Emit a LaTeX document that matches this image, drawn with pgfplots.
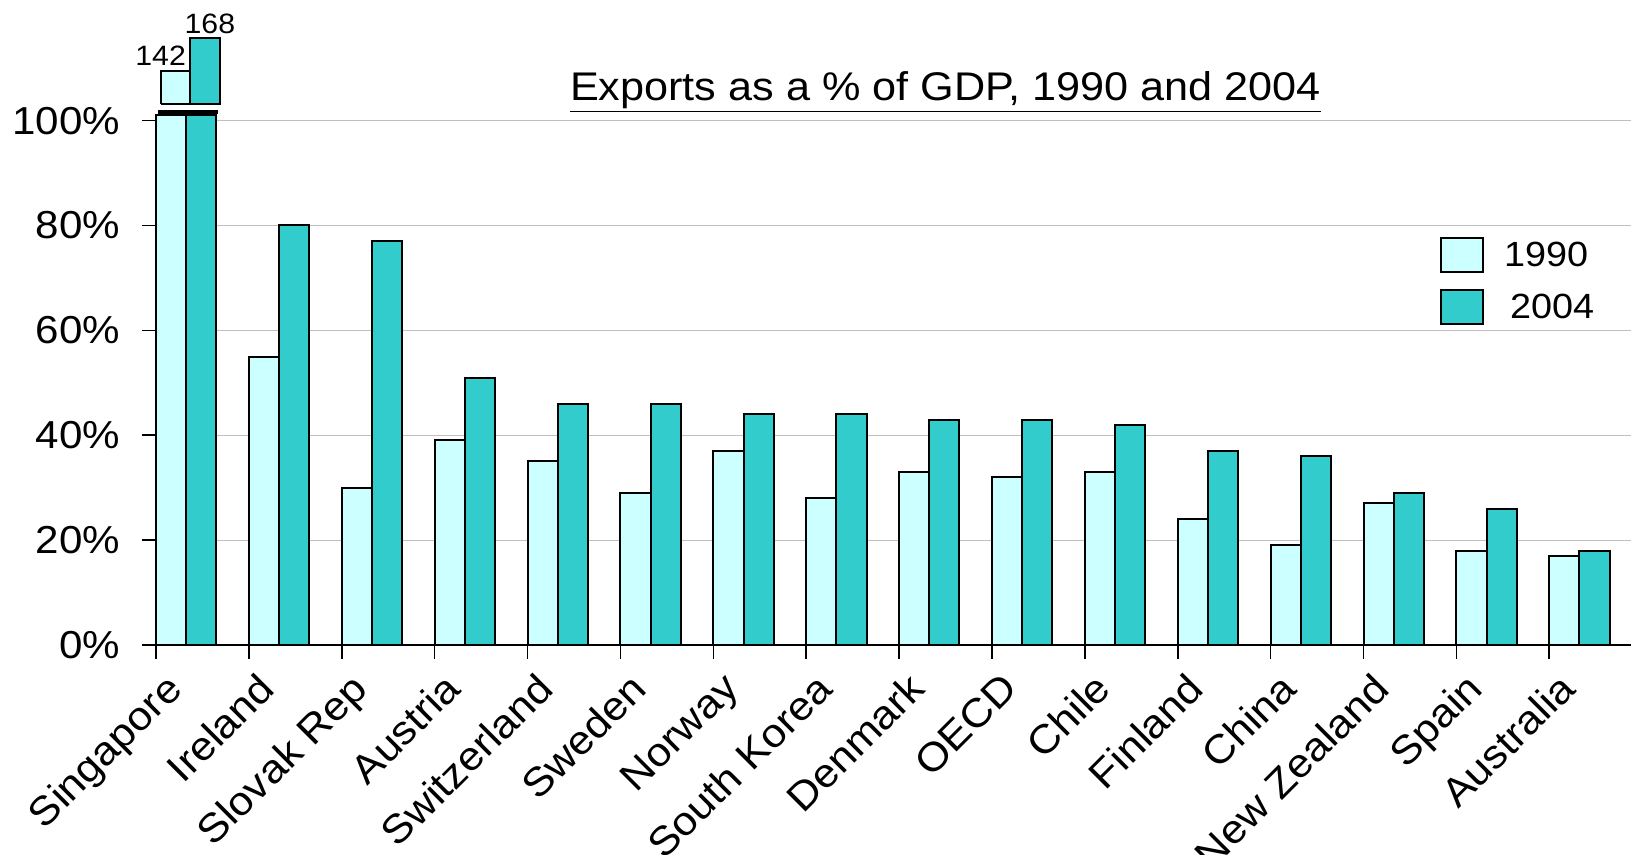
\documentclass[border=0pt]{standalone}
\usepackage{fontspec}
\setmainfont{Liberation Sans}[FakeStretch=1.08]
\usepackage{pgfplots}
\pgfplotsset{compat=1.18}
\definecolor{cA}{HTML}{CCFFFF}
\definecolor{cB}{HTML}{33CCCC}
\pgfplotstableread{
x  y
0.1625 101
1.1625 55
2.1625 30
3.1625 39
4.1625 35
5.1625 29
6.1625 37
7.1625 28
8.1625 33
9.1625 32
10.1625 33
11.1625 24
12.1625 19
13.1625 27
14.1625 18
15.1625 17
}\dataA
\pgfplotstableread{
x  y
0.4875 101
1.4875 80
2.4875 77
3.4875 51
4.4875 46
5.4875 46
6.4875 44
7.4875 44
8.4875 43
9.4875 43
10.4875 42
11.4875 37
12.4875 36
13.4875 29
14.4875 26
15.4875 18
}\dataB
\begin{document}
\begin{tikzpicture}
\path[use as bounding box] (0,0) rectangle (815.5pt,427.5pt);
\begin{axis}[
  at={(78pt,105pt)}, anchor=south west,
  scale only axis, width=737.5pt, height=262.2pt,
  xmin=0, xmax=15.88, ymin=0, ymax=100,
  axis x line=bottom, axis y line=left,
  axis line style={-, line width=0.8pt, black},
  clip=false,
  /pgf/number format/assume math mode=true,
  ytick={0,20,40,60,80,100}, yticklabels={0\%,20\%,40\%,60\%,80\%,100\%},
  yticklabel style={font=\fontsize{19.5}{22}\selectfont, xshift=-7.5pt},
  ymajorgrids, grid style={gray!50, line width=0.6pt},
  tick align=outside, major tick length=7pt,
  tick style={black, line width=0.8pt},
  xtick={0,1,2,3,4,5,6,7,8,9,10,11,12,13,14,15}, xticklabels={},
  extra x ticks={0,1,2,3,4,5,6,7,8,9,10,11,12,13,14,15},
  extra x tick labels={Singapore,Ireland,Slovak Rep,Austria,Switzerland,Sweden,Norway,South Korea,Denmark,OECD,Chile,Finland,China,New Zealand,Spain,Australia},
  extra x tick style={major tick length=0pt, tick label style={xshift=-4pt, rotate=45, yshift=-11pt, anchor=north east, font=\fontsize{20}{23}\selectfont}},
  bar width=0.325,
  mylegend/.style={legend image code/.code={\draw[##1] (0pt,-8.5pt) rectangle (21pt,8.5pt);}},
  legend style={at={(axis cs:13.82,77.8)}, anchor=north west, draw=none, fill=none, inner sep=0pt, row sep=8pt, font=\fontsize{17.5}{20}\selectfont, cells={anchor=west}},
]
\addplot[ybar, bar shift=0pt, fill=cA, draw=black, line width=1pt, mylegend] table[x=x,y=y] {\dataA};
\addlegendentry{\hspace{8pt}1990}
\addplot[ybar, bar shift=0pt, fill=cB, draw=black, line width=1pt, mylegend] table[x=x,y=y] {\dataB};
\addlegendentry{\hspace{11pt}2004}
% broken Singapore bars: stubs above the break
\addplot[forget plot, fill=cA, draw=black, line width=1pt] coordinates {(0.05,103.2) (0.37,103.2) (0.37,109.5) (0.05,109.5) (0.05,103.2)};
\addplot[forget plot, fill=cB, draw=black, line width=1pt] coordinates {(0.37,103.2) (0.69,103.2) (0.69,115.7) (0.37,115.7) (0.37,103.2)};
\addplot[forget plot, black, line width=2pt] coordinates {(0.02,101.6) (0.67,101.6)};
\node[font=\fontsize{14}{16}\selectfont, anchor=base] at (axis cs:0.05,110.5) {142};
\node[font=\fontsize{14}{16}\selectfont, anchor=base] at (axis cs:0.58,116.6) {168};
\node[font=\fontsize{20}{24}\selectfont, anchor=base] at (axis cs:8.5,103.9) {\underline{Exports as a \% of GDP, 1990 and 2004}};
\end{axis}
\end{tikzpicture}
\end{document}
